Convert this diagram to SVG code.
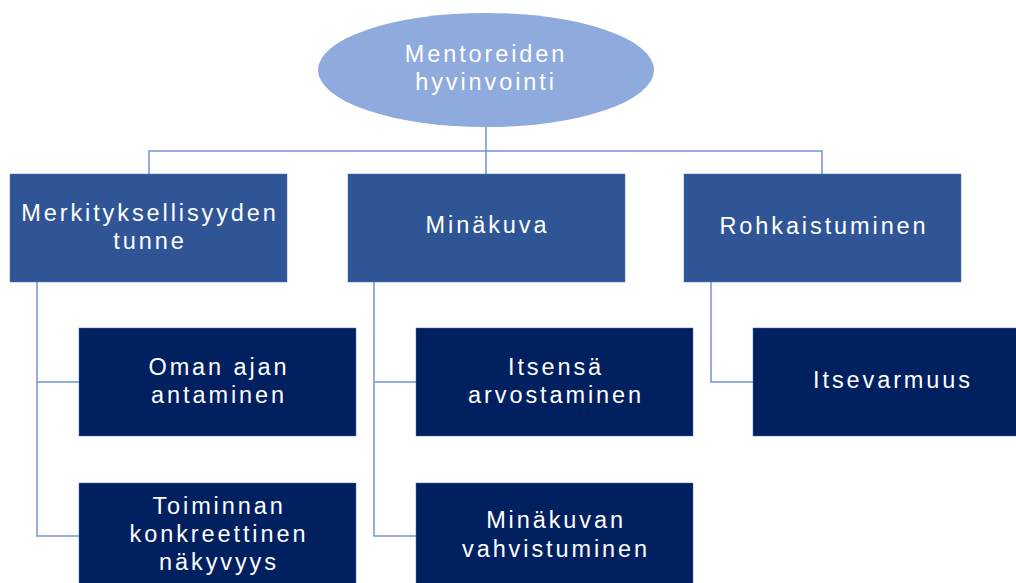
<svg xmlns="http://www.w3.org/2000/svg" width="1016" height="583" viewBox="0 0 1016 583">
<style>
.t{font-family:"Liberation Sans",Arial,sans-serif;font-size:23.5px;letter-spacing:2.9px;fill:#ffffff;text-anchor:middle}
.l1{fill:#2f5597;stroke:#4472c4;stroke-width:0.5}
.l2{fill:#002060;stroke:#4472c4;stroke-width:0.5}
.c{fill:none;stroke:#7593d2;stroke-width:1.5}
</style>
<rect width="1016" height="583" fill="#ffffff"/>
<g id="connectors">
<path class="c" d="M486 127V151M149 175V151H822V175M486 151V175" />
<path class="c" d="M37 282V536H79M37 382H79" />
<path class="c" d="M374 282V536H416M374 382H416" />
<path class="c" d="M711 282V382H753" />
</g>
<g id="root">
<ellipse cx="486" cy="70" rx="168" ry="57" fill="#8faadc"/>
<text class="t" x="486" y="62">Mentoreiden</text>
<text class="t" x="486" y="90">hyvinvointi</text>
</g>
<g id="n1">
<rect class="l1" x="10" y="174" width="277" height="108"/>
<text class="t" x="150" y="221">Merkityksellisyyden</text>
<text class="t" x="150" y="249">tunne</text>
</g>
<g id="n2">
<rect class="l1" x="348" y="174" width="277" height="108"/>
<text class="t" x="487.5" y="233">Minäkuva</text>
</g>
<g id="n3">
<rect class="l1" x="684" y="174" width="277" height="108"/>
<text class="t" x="824" y="234">Rohkaistuminen</text>
</g>
<g id="n1a">
<rect class="l2" x="79" y="328" width="277" height="108"/>
<text class="t" x="219" y="375">Oman ajan</text>
<text class="t" x="219" y="403">antaminen</text>
</g>
<g id="n1b">
<rect class="l2" x="79" y="483" width="277" height="108"/>
<text class="t" x="219" y="514">Toiminnan</text>
<text class="t" x="219" y="542">konkreettinen</text>
<text class="t" x="219" y="570">näkyvyys</text>
</g>
<g id="n2a">
<rect class="l2" x="416" y="328" width="277" height="108"/>
<text class="t" x="556" y="375">Itsensä</text>
<text class="t" x="556" y="403">arvostaminen</text>
</g>
<g id="n2b">
<rect class="l2" x="416" y="483" width="277" height="108"/>
<text class="t" x="556" y="528">Minäkuvan</text>
<text class="t" x="556" y="557">vahvistuminen</text>
</g>
<g id="n3a">
<rect class="l2" x="753" y="328" width="277" height="108"/>
<text class="t" x="893" y="388">Itsevarmuus</text>
</g>
</svg>
